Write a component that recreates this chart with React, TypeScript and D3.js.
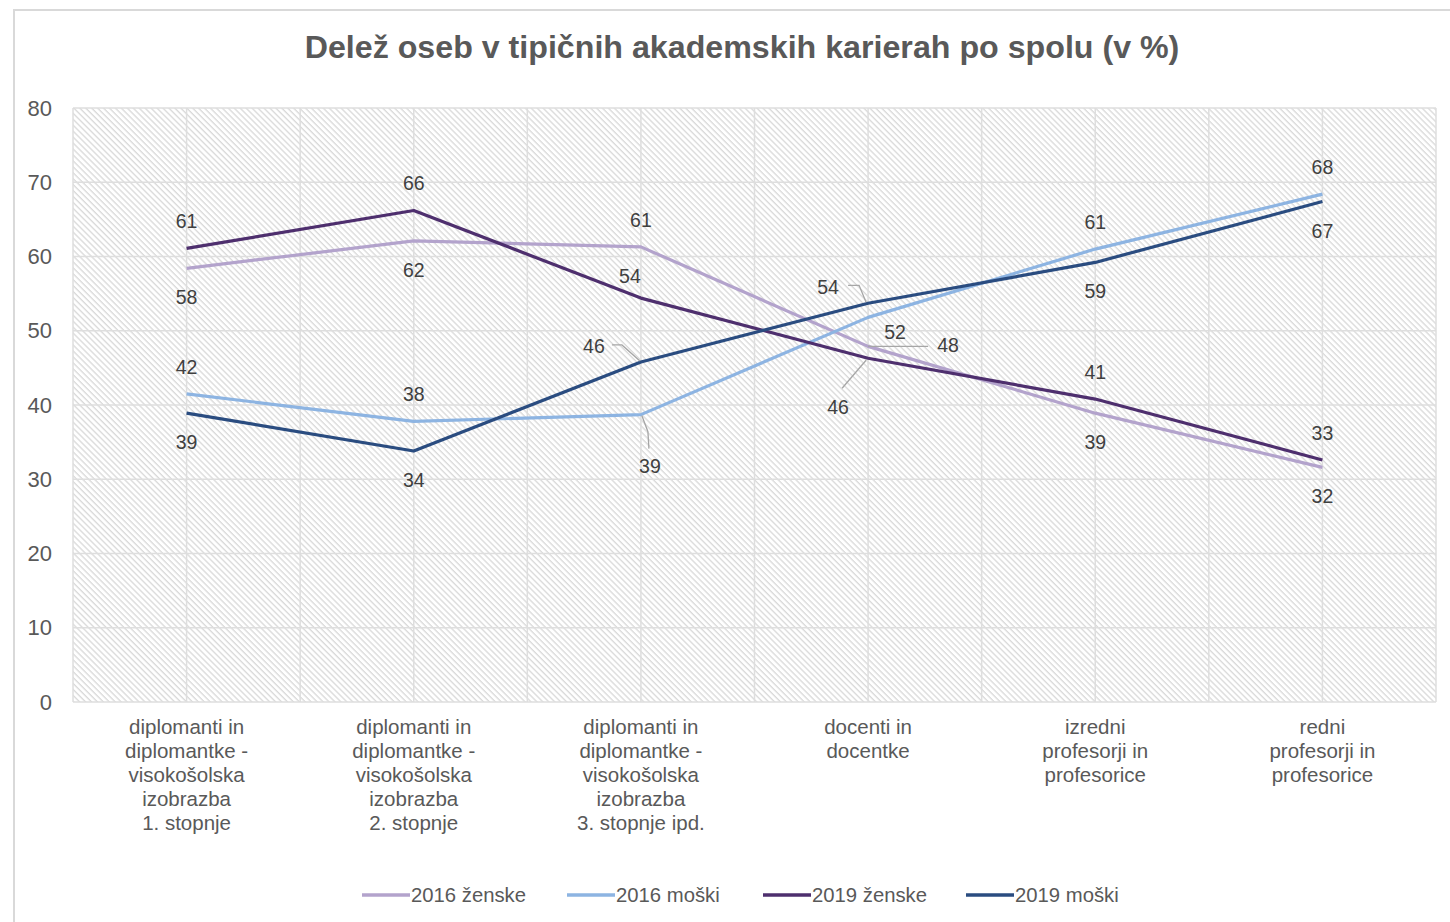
import React from "react";
import * as d3 from "d3";

const categories: string[][] = [
  ["diplomanti in", "diplomantke -", "visokošolska", "izobrazba", "1. stopnje"],
  ["diplomanti in", "diplomantke -", "visokošolska", "izobrazba", "2. stopnje"],
  ["diplomanti in", "diplomantke -", "visokošolska", "izobrazba", "3. stopnje ipd."],
  ["docenti in", "docentke"],
  ["izredni", "profesorji in", "profesorice"],
  ["redni", "profesorji in", "profesorice"],
];

const seriesNames = ["2016 ženske", "2016 moški", "2019 ženske", "2019 moški"];
const zenske2016 = [58.4, 62.1, 61.3, 47.9, 38.9, 31.6];
const moski2016 = [41.5, 37.8, 38.7, 51.8, 61.0, 68.4];
const zenske2019 = [61.1, 66.2, 54.4, 46.3, 40.8, 32.6];
const moski2019 = [38.9, 33.8, 45.8, 53.7, 59.2, 67.4];
const yTicks = [0, 10, 20, 30, 40, 50, 60, 70, 80];
const seriesColors = ["#b3a3cc", "#8db4e2", "#4e2f6e", "#2a4c80"];

// label placement per series per category: "a" above, "b" below, or custom
type Place = "a" | "b" | { dx: number; dy: number; leader?: [number, number][] };
const labelPlacement: Place[][] = [
  ["b", "b", "a", { dx: 80, dy: -1, leader: [[0, 0], [60, 0]] }, "b", "b"],
  ["a", "a", { dx: 9, dy: 51, leader: [[1, 1], [7, 17], [8, 34]] }, { dx: 27, dy: 15 }, "a", "a"],
  ["a", "a", { dx: -11, dy: -22 }, { dx: -30, dy: 49, leader: [[-2, 2], [-26, 30]] }, "a", "a"],
  ["b", "b", { dx: -47, dy: -16, leader: [[-1, -1], [-19, -17], [-29, -17]] }, { dx: -40, dy: -16, leader: [[-2, -1], [-9, -18], [-20, -18]] }, "b", "b"],
];

const W = 1450;
const H = 922;
const margin = { left: 73, right: 14, top: 108, bottom: 220 };

export default function App() {
  const allSeries = [zenske2016, moski2016, zenske2019, moski2019];
  const x = d3
    .scaleBand<number>()
    .domain(d3.range(categories.length))
    .range([margin.left, W - margin.right])
    .paddingInner(0)
    .paddingOuter(0);
  const y = d3.scaleLinear().domain([0, 80]).range([702, 108]);
  const cx = (i: number) => (x(i) as number) + x.bandwidth() / 2;
  const line = d3
    .line<number>()
    .x((_, i) => cx(i))
    .y((d) => y(d));

  const font = "'Liberation Sans', Arial, sans-serif";
  const textColor = "#595959";
  const plotL = margin.left;
  const plotR = W - margin.right;

  const vGrid: number[] = [];
  for (let i = 0; i <= categories.length; i++) {
    vGrid.push((x(0) as number) + i * x.bandwidth());
    if (i < categories.length) vGrid.push(cx(i));
  }

  const legendItems = [
    { x: 362, text: seriesNames[0] },
    { x: 567, text: seriesNames[1] },
    { x: 763, text: seriesNames[2] },
    { x: 966, text: seriesNames[3] },
  ];

  return (
    <svg
      width={W}
      height={H}
      style={{ position: "absolute", left: 0, top: 0, background: "#fff" }}
    >
      <defs>
        <pattern
          id="hatch"
          patternUnits="userSpaceOnUse"
          width={4.2}
          height={4.2}
          patternTransform="rotate(-45)"
        >
          <rect width={4.2} height={4.2} fill="#ffffff" />
          <line x1={1} y1={0} x2={1} y2={4.2} stroke="#d9d9d9" strokeWidth={1.3} />
        </pattern>
      </defs>
      <rect x={14} y={10} width={W} height={H} fill="#fff" stroke="#d9d9d9" strokeWidth={2} />

      <text
        x={742}
        y={47}
        textAnchor="middle"
        dominantBaseline="central"
        fontFamily={font}
        fontWeight="bold"
        fontSize={32.2}
        fill={textColor}
      >
        Delež oseb v tipičnih akademskih karierah po spolu (v %)
      </text>

      <rect x={plotL} y={y(80)} width={plotR - plotL} height={y(0) - y(80)} fill="url(#hatch)" />

      {yTicks.map((t) => (
        <g key={t}>
          <line x1={plotL} x2={plotR} y1={y(t)} y2={y(t)} stroke="#dedede" strokeWidth={1.5} />
          <text
            x={52}
            y={y(t)}
            textAnchor="end"
            dominantBaseline="central"
            fontFamily={font}
            fontSize={22}
            fill={textColor}
          >
            {t}
          </text>
        </g>
      ))}
      {vGrid.map((v, i) => (
        <line key={i} x1={v} x2={v} y1={y(80)} y2={y(0)} stroke="#dedede" strokeWidth={1.5} />
      ))}

      {categories.map((lines, i) => (
        <text
          key={i}
          textAnchor="middle"
          fontFamily={font}
          fontSize={20.5}
          fill={textColor}
        >
          {lines.map((l, j) => (
            <tspan key={j} x={cx(i)} y={726 + j * 24} dominantBaseline="central">
              {l}
            </tspan>
          ))}
        </text>
      ))}

      {allSeries.map((s, k) => (
        <path
          key={k}
          d={line(s) || ""}
          fill="none"
          stroke={seriesColors[k]}
          strokeWidth={3.2}
          strokeLinejoin="round"
        />
      ))}

      {allSeries.map((s, k) =>
        s.map((v, i) => {
          const p = labelPlacement[k][i];
          const px = cx(i);
          const py = y(v);
          let dx = 0;
          let dy = 0;
          let leader: [number, number][] | undefined;
          if (p === "a") dy = -27;
          else if (p === "b") dy = 29;
          else {
            dx = p.dx;
            dy = p.dy;
            leader = p.leader;
          }
          return (
            <g key={`${k}-${i}`}>
              {leader && (
                <polyline
                  points={leader.map(([a, b]) => `${px + a},${py + b}`).join(" ")}
                  fill="none"
                  stroke="#a6a6a6"
                  strokeWidth={1.3}
                />
              )}
              <text
                x={px + dx}
                y={py + dy}
                textAnchor="middle"
                dominantBaseline="central"
                fontFamily={font}
                fontSize={19.5}
                fill="#404040"
              >
                {Math.round(v)}
              </text>
            </g>
          );
        })
      )}

      {legendItems.map((it, k) => (
        <g key={k}>
          <line
            x1={it.x}
            x2={it.x + 48}
            y1={895}
            y2={895}
            stroke={seriesColors[k]}
            strokeWidth={3.5}
          />
          <text
            x={it.x + 49}
            y={895}
            dominantBaseline="central"
            fontFamily={font}
            fontSize={20.3}
            fill={textColor}
          >
            {it.text}
          </text>
        </g>
      ))}
    </svg>
  );
}
